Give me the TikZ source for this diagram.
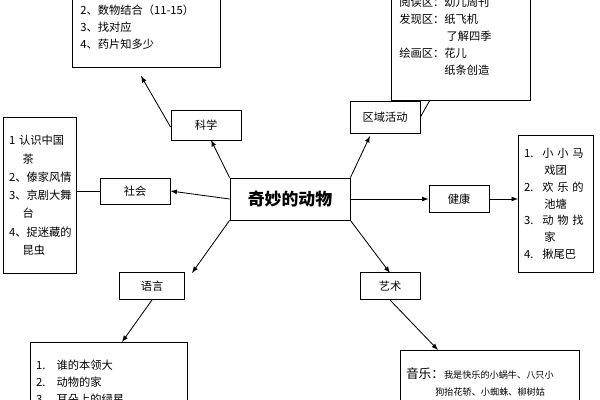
\documentclass[tikz,border=0pt]{standalone}
\usepackage{fontspec}
\setmainfont{Noto Sans CJK SC}
\begin{document}
\begin{tikzpicture}[x=0.025cm,y=-0.025cm,
  bx/.style={draw,line width=0.6pt,inner sep=0pt,font=\fontsize{8}{10}\selectfont},
  lst/.style={draw,line width=0.6pt,anchor=north west,align=left,inner sep=4pt,font=\fontsize{8}{12}\selectfont},
  ar/.style={-latex,line width=0.6pt},
  ln/.style={line width=0.6pt}]
\useasboundingbox (0,0) rectangle (600,400);
\clip (0,0) rectangle (600,400);
% center
\node[bx,minimum width=3cm,minimum height=1.05cm,font=\fontsize{12}{14}\selectfont\bfseries] (c) at (290,199) {奇妙的动物};
% category boxes
\node[bx,minimum width=1.75cm,minimum height=0.75cm] (kx) at (206,125) {科学};
\node[bx,minimum width=1.75cm,minimum height=0.65cm] (sh) at (135,191) {社会};
\node[bx,minimum width=1.75cm,minimum height=0.8cm] (qy) at (385,117) {区域活动};
\node[bx,minimum width=1.5cm,minimum height=0.68cm] (jk) at (459,199) {健康};
\node[bx,minimum width=1.62cm,minimum height=0.68cm] (yy) at (152,286) {语言};
\node[bx,minimum width=1.5cm,minimum height=0.68cm] (ys) at (390,286) {艺术};
% list boxes
\draw[ln] (72,-5) rectangle (220,67);
\node[anchor=north west,align=left,font=\fontsize{8}{12}\selectfont,inner sep=0pt] (kxl) at (80,5) {2、数物结合（11-15）\\3、找对应\\4、药片知多少};
\draw[ln] (391,-5) rectangle (530,100);
\node[anchor=north west,align=left,font=\fontsize{8}{12}\selectfont,inner sep=0pt] (qyl) at (399,-3) {阅读区：幼儿周刊\\发现区：纸飞机\\\hspace{4.2em}了解四季\\绘画区：花儿\\\hspace{4em}纸条创造};
\node[lst,text width=1.55cm,minimum height=3.9cm,font=\fontsize{8}{13}\selectfont] (shl) at (3,117) {1 认识中国\\\hspace{1.2em}茶\\2、傣家风情\\3、京剧大舞\\\hspace{1.2em}台\\4、捉迷藏的\\\hspace{1.2em}昆虫};
\node[lst,text width=1.6cm,minimum height=3.42cm] (jkl) at (518,135) {1.\hspace{0.8em}小 小 马\\\hspace{1.8em}戏团\\2.\hspace{0.8em}欢 乐 的\\\hspace{1.8em}池塘\\3.\hspace{0.8em}动 物 找\\\hspace{1.8em}家\\4.\hspace{0.8em}揪尾巴};
\node[lst,text width=3.65cm,minimum height=2cm] (yyl) at (30,342) {1.\hspace{1em}谁的本领大\\2.\hspace{1em}动物的家\\3.\hspace{1em}耳朵上的绿星};
\node[lst,text width=4.2cm,minimum height=2cm,font=\fontsize{6.5}{12}\selectfont] (ysl) at (400,350) {{\fontsize{9}{12}\selectfont 音乐：}我是快乐的小蜗牛、八只小\\\hspace{3.2em}狗抬花轿、小蜘蛛、柳树姑\\\hspace{3.2em}娘};
% connectors
\draw[ar] (kx.west) ++(0,2) -- (141,76);
\draw[ar] (c.north west) -- (211,140);
\draw[ar] (c.west) -- (sh.east);
\draw[ln] (sh.west) -- (shl.east |- sh.west);
\draw[ar] (c.south west) -- (192,273);
\draw[ar] (c.north east) -- (370,136);
\draw[ln] (qy.east) -- (430,100);
\draw[ar] (c.east) -- (jk.west);
\draw[ar] (jk.east) -- (jkl.west |- jk.east);
\draw[ar] (c.south east) -- (390,273);
\draw[ar] (yy.south) -- (122,342);
\draw[ar] (ys.south) -- (438,350);
\end{tikzpicture}
\end{document}
